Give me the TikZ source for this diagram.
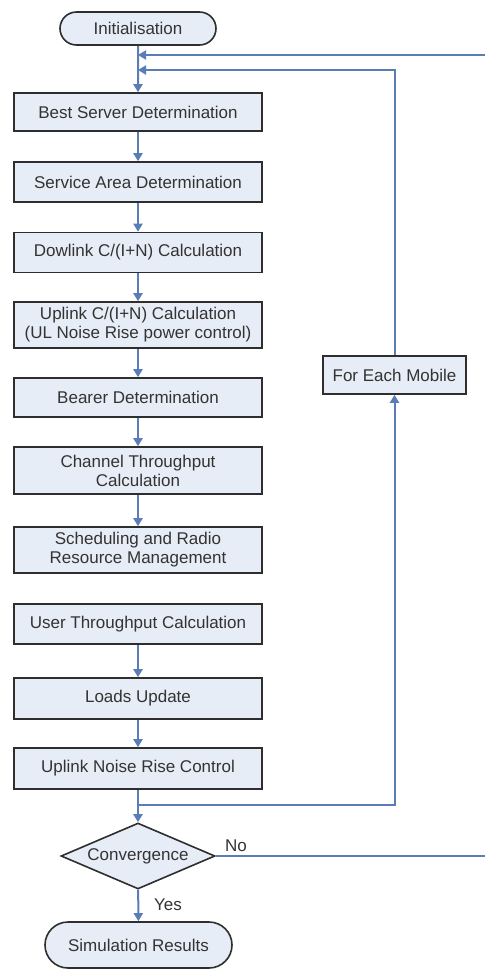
\documentclass[tikz,border=0pt]{standalone}
\usepackage{fontspec}
\setmainfont{Liberation Sans}
\usetikzlibrary{shapes.geometric,shapes.misc,arrows.meta}
\definecolor{boxfill}{HTML}{E7EDF6}
\definecolor{boxedge}{HTML}{2E2E2E}
\definecolor{flow}{HTML}{5B7DB6}
\definecolor{ink}{HTML}{333333}
\begin{document}
\begin{tikzpicture}[x=1pt,y=-1pt,
  font=\fontsize{17}{19}\selectfont,
  proc/.style={draw=boxedge, fill=boxfill, line width=1.6pt, minimum width=248pt,
    inner sep=0pt, align=center, text=ink},
  term/.style={rounded rectangle, draw=boxedge, fill=boxfill, line width=1.6pt,
    inner sep=0pt, text=ink},
  decision/.style={diamond, draw=boxedge, fill=boxfill, line width=1.6pt,
    inner sep=0pt, aspect=2.33, text=ink},
  flowline/.style={draw=flow, line width=2pt},
  flowarrow/.style={flowline, -{Triangle[length=8pt,width=9pt]}},
  tag/.style={text=ink, inner sep=0pt}]
\useasboundingbox (0,0) rectangle (485,970);
\clip (0,0) rectangle (485,970);

% main column
\node[term, minimum width=156pt, minimum height=33pt] (init) at (138,28.5) {Initialisation};
\node[proc, minimum height=38pt] (best)    at (138,112)   {Best Server Determination};
\node[proc, minimum height=40pt] (service) at (138,182)   {Service Area Determination};
\node[proc, minimum height=40pt] (dl)      at (138,252.5) {Dowlink C/(I+N) Calculation};
\node[proc, minimum height=46pt] (ul)      at (138,325)   {Uplink C/(I+N) Calculation\\(UL Noise Rise power control)};
\node[proc, minimum height=39pt] (bearer)  at (138,397.5) {Bearer Determination};
\node[proc, minimum height=47pt] (chan)    at (138,470.5) {Channel Throughput\\Calculation};
\node[proc, minimum height=46pt] (sched)   at (138,550)   {Scheduling and Radio\\Resource Management};
\node[proc, minimum height=40pt] (user)    at (138,624)   {User Throughput Calculation};
\node[proc, minimum height=41pt] (loads)   at (138,698.5) {Loads Update};
\node[proc, minimum height=41pt] (unrc)    at (138,768.5) {Uplink Noise Rise Control};
\node[decision, minimum width=154pt, minimum height=66pt] (conv) at (138,856) {Convergence};
\node[term, minimum width=187pt, minimum height=46pt] (sim) at (138.5,945) {Simulation Results};

% side box of the inner loop
\node[proc, minimum width=143pt, minimum height=38pt] (fem) at (394.5,375) {For Each Mobile};

% junction points
\coordinate (outerin) at (138,55);
\coordinate (innerin) at (138,70);
\coordinate (split)   at (138,805);
\coordinate (farright) at (492,55);

% forward flow
\draw[flowarrow] (init) -- (best);
\draw[flowarrow] (best) -- (service);
\draw[flowarrow] (service) -- (dl);
\draw[flowarrow] (dl) -- (ul);
\draw[flowarrow] (ul) -- (bearer);
\draw[flowarrow] (bearer) -- (chan);
\draw[flowarrow] (chan) -- (sched);
\draw[flowarrow] (user) -- (loads);
\draw[flowarrow] (loads) -- (unrc);
\draw[flowarrow] (unrc) -- (conv);
\draw[flowarrow] (conv) -- (sim);

% inner loop: for each mobile
\draw[flowarrow] (split) -| (fem.south);
\draw[flowarrow] (fem.north) |- (innerin);

% outer loop: until convergence
\draw[flowarrow] (conv.east) -- (conv.east -| farright) |- (outerin);

% branch labels
\node[tag] (no)  at (236,846) {No};
\node[tag] (yes) at (168,905) {Yes};
\end{tikzpicture}
\end{document}
